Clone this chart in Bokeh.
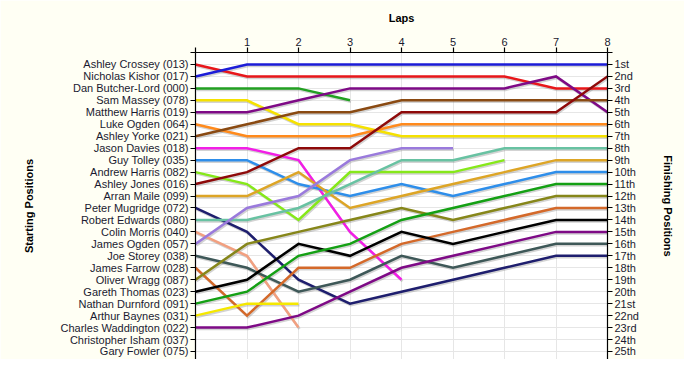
from bokeh.plotting import figure
from bokeh.models import Range1d, LinearAxis, FixedTicker
from bokeh.embed import file_html
from bokeh.resources import INLINE

laps = [0, 1, 2, 3, 4, 5, 6, 7, 8]
lap_labels = ["", "1", "2", "3", "4", "5", "6", "7", "8"]

drivers = [
    "Ashley Crossey (013)", "Nicholas Kishor (017)", "Dan Butcher-Lord (000)",
    "Sam Massey (078)", "Matthew Harris (019)", "Luke Ogden (064)",
    "Ashley Yorke (021)", "Jason Davies (018)", "Guy Tolley (035)",
    "Andrew Harris (082)", "Ashley Jones (016)", "Arran Maile (099)",
    "Peter Mugridge (072)", "Robert Edwards (080)", "Colin Morris (040)",
    "James Ogden (057)", "Joe Storey (038)", "James Farrow (028)",
    "Oliver Wragg (087)", "Gareth Thomas (023)", "Nathan Durnford (091)",
    "Arthur Baynes (031)", "Charles Waddington (022)", "Christopher Isham (037)",
    "Gary Fowler (075)",
]

finish_labels = ["1st", "2nd", "3rd", "4th", "5th", "6th", "7th", "8th", "9th",
                 "10th", "11th", "12th", "13th", "14th", "15th", "16th", "17th",
                 "18th", "19th", "20th", "21st", "22nd", "23rd", "24th", "25th"]

# positions per lap (lap 0 = starting position); shorter lists = retired
pos_crossey = [1, 2, 2, 2, 2, 2, 2, 3, 3]
pos_kishor = [2, 1, 1, 1, 1, 1, 1, 1, 1]
pos_butcher = [3, 3, 3, 4]
pos_massey = [4, 4, 6, 6, 7, 7, 7, 7, 7]
pos_mharris = [5, 5, 4, 3, 3, 3, 3, 2, 5]
pos_logden = [6, 7, 7, 7, 6, 6, 6, 6, 6]
pos_yorke = [7, 6, 5, 5, 4, 4, 4, 4, 4]
pos_davies = [8, 8, 9, 15, 19]
pos_tolley = [9, 9, 11, 12, 11, 12, 11, 10, 10]
pos_aharris = [10, 11, 14, 10, 10, 10, 9]
pos_jones = [11, 10, 8, 8, 5, 5, 5, 5, 2]
pos_maile = [12, 12, 10, 13, 12, 11, 10, 9, 9]
pos_mugridge = [13, 15, 19, 21, 20, 19, 18, 17, 17]
pos_edwards = [14, 14, 13, 11, 9, 9, 8, 8, 8]
pos_morris = [15, 17, 23]
pos_jogden = [16, 13, 12, 9, 8, 8]
pos_storey = [17, 18, 20, 19, 17, 18, 17, 16, 16]
pos_farrow = [18, 22, 18, 18, 16, 15, 14, 13, 13]
pos_wragg = [19, 16, 15, 14, 13, 14, 13, 12, 12]
pos_thomas = [20, 19, 16, 17, 15, 16, 15, 14, 14]
pos_durnford = [21, 20, 17, 16, 14, 13, 12, 11, 11]
pos_baynes = [22, 21, 21]
pos_waddington = [23, 23, 22, 20, 18, 17, 16, 15, 15]
pos_isham = []
pos_fowler = []

series = [pos_crossey, pos_kishor, pos_butcher, pos_massey, pos_mharris,
          pos_logden, pos_yorke, pos_davies, pos_tolley, pos_aharris, pos_jones,
          pos_maile, pos_mugridge, pos_edwards, pos_morris, pos_jogden,
          pos_storey, pos_farrow, pos_wragg, pos_thomas, pos_durnford,
          pos_baynes, pos_waddington, pos_isham, pos_fowler]

colors = ["#E8161A", "#1C1CD8", "#22A022", "#F5E100", "#7E0A86", "#FF8A1C",
          "#8A4A12", "#F21EE6", "#2E8EEA", "#86E81A", "#8E0A0A", "#DDA526",
          "#1E1E6E", "#68C2A2", "#F2A080", "#9A7ADC", "#3E5858", "#D4692A",
          "#86861A", "#000000", "#14A014", "#F5E800", "#7E0A86", "#000000",
          "#000000"]

FONT = "Liberation Sans"
TEXT = "#1a1a30"

W, H = 684, 359
ML, MR, MT, MB = 195, 77, 52, 0
fw, fh = W - ML - MR, H - MT - MB
Y_BOTTOM = 25.67

p = figure(width=W, height=H, x_range=Range1d(0, 8), y_range=Range1d(Y_BOTTOM, 0),
           output_backend="svg", toolbar_location=None, x_axis_location="above",
           min_border_left=ML, min_border_right=MR, min_border_top=MT,
           min_border_bottom=MB, background_fill_color="#FFFFFF",
           border_fill_color="#FFFFF4", outline_line_color=None)

# shadow offsets (in data units, ~1px right, ~1.5px down)
dx = 1.0 * 8 / fw
dy = 1.5 * Y_BOTTOM / fh

for ys in series:
    if not ys:
        continue
    xs = laps[:len(ys)]
    p.line([x + dx for x in xs], [y + dy for y in ys], line_color="#808080",
           line_alpha=0.35, line_width=2.5, line_join="miter")
for ys, c in zip(series, colors):
    if not ys:
        continue
    xs = laps[:len(ys)]
    p.line(xs, ys, line_color=c, line_width=2.5, line_join="miter")

yticks = list(range(0, 27))
left_over = {i: "" for i in yticks}
right_over = {i: "" for i in yticks}
for i, name in enumerate(drivers):
    left_over[i + 1] = name
for i, lab in enumerate(finish_labels):
    right_over[i + 1] = lab

def style_axis(ax):
    ax.axis_line_color = "black"
    ax.axis_line_width = 1.2
    ax.major_tick_line_color = "black"
    ax.major_tick_line_width = 1.2
    ax.major_tick_out = 5
    ax.major_tick_in = 0
    ax.minor_tick_line_color = None
    ax.major_label_text_font = FONT
    ax.major_label_text_font_size = "11px"
    ax.major_label_text_color = TEXT
    ax.major_label_standoff = 2
    ax.axis_label_text_font = FONT
    ax.axis_label_text_font_size = "11px"
    ax.axis_label_text_font_style = "bold"
    ax.axis_label_text_color = "black"

xax = p.xaxis[0]
xax.ticker = FixedTicker(ticks=laps)
xax.major_label_overrides = {l: t for l, t in zip(laps, lap_labels)}
xax.axis_label = "Laps"
style_axis(xax)
xax.axis_label_standoff = 11

yax = p.yaxis[0]
yax.ticker = FixedTicker(ticks=yticks)
yax.major_label_overrides = left_over
yax.axis_label = "Starting Positions"
style_axis(yax)
yax.axis_label_standoff = 23

rax = LinearAxis(ticker=FixedTicker(ticks=yticks), major_label_overrides=right_over,
                 axis_label="Finishing Positions")
style_axis(rax)
rax.axis_label_standoff = 20
p.add_layout(rax, "right")

p.xgrid.ticker = FixedTicker(ticks=laps)
p.ygrid.ticker = FixedTicker(ticks=yticks)
p.xgrid.grid_line_color = "#E6E6E6"
p.ygrid.grid_line_color = "#E6E6E6"

open("out.html", "w").write(file_html(p, INLINE))
